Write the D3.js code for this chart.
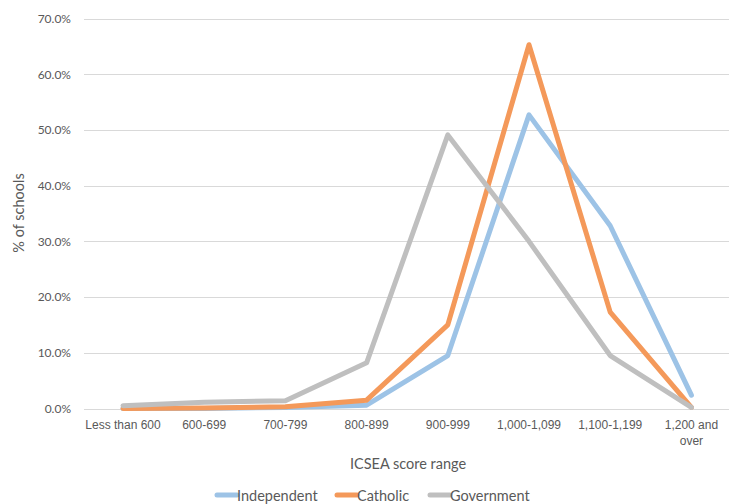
<!DOCTYPE html>
<html>
<head>
<meta charset="utf-8">
<script src="https://cdn.jsdelivr.net/npm/d3@7"></script>
<style>
  html, body { margin: 0; padding: 0; background: #fff; }
  svg { display: block; font-family: Lato, "Open Sans", sans-serif; }
</style>
</head>
<body>
<svg id="chart" width="729" height="504"></svg>
<script>
// ICSEA score bands
const categories = ["Less than 600", "600-699", "700-799", "800-899", "900-999", "1,000-1,099", "1,100-1,199", "1,200 and over"];

// Share of schools (%) in each band, by sector
const independent = [0.0, 0.0, 0.2, 0.6, 9.5, 52.7, 32.8, 2.4];
const catholic    = [0.0, 0.1, 0.3, 1.5, 15.0, 65.3, 17.3, 0.2];
const government  = [0.5, 1.1, 1.4, 8.2, 49.1, 30.0, 9.5, 0.2];

const seriesNames = ["Independent", "Catholic", "Government"];
const seriesColors = ["#9dc3e6", "#f4995a", "#bfbfbf"];
const yTicks = [0, 10, 20, 30, 40, 50, 60, 70];

const series = [independent, catholic, government];

const svg = d3.select("#chart");
const margin = { left: 82.4, right: -3, top: 18.5, bottom: 95.5 };
const W = 729, H = 504;

const x = d3.scaleBand()
  .domain(categories)
  .range([margin.left, W - margin.right])
  .paddingInner(0).paddingOuter(0);

const y = d3.scaleLinear()
  .domain([0, 70])
  .range([H - margin.bottom, margin.top]);

const textColor = "#595959";

// Horizontal gridlines
svg.append("g")
  .selectAll("line")
  .data(yTicks)
  .join("line")
  .attr("x1", 84)
  .attr("x2", W - margin.right)
  .attr("y1", d => Math.round(y(d)) + 0.5)
  .attr("y2", d => Math.round(y(d)) + 0.5)
  .attr("stroke", "#d9d9d9")
  .attr("stroke-width", 1);

// Y axis labels
const yAxis = d3.axisLeft(y)
  .tickValues(yTicks)
  .tickFormat(d => d.toFixed(1) + "%")
  .tickSize(0)
  .tickPadding(0);

const gy = svg.append("g")
  .attr("transform", "translate(71,0)")
  .call(yAxis);
gy.select(".domain").remove();
gy.selectAll("text")
  .attr("fill", textColor)
  .attr("font-size", 12)
  .attr("font-family", "Lato, 'Open Sans', sans-serif");

// X axis labels (wrapping the last one onto two lines)
const xAxis = d3.axisBottom(x).tickSize(0).tickPadding(0).tickFormat("");
const gx = svg.append("g")
  .attr("transform", `translate(0,${y(0)})`)
  .call(xAxis);
gx.select(".domain").remove();
gx.selectAll(".tick").each(function(d) {
  const t = d3.select(this).append("text")
    .attr("fill", textColor)
    .attr("font-size", 12)
    .attr("text-anchor", "middle")
    .attr("y", 20);
  const parts = d === "1,200 and over" ? ["1,200 and", "over"] : [d];
  parts.forEach((p, i) => {
    t.append("tspan").attr("x", 0).attr("dy", i === 0 ? 0 : 16).text(p);
  });
});

// Axis titles
svg.append("text")
  .attr("x", 408)
  .attr("y", 469)
  .attr("text-anchor", "middle")
  .attr("fill", textColor)
  .attr("font-size", 14.5)
  .text("ICSEA score range");

svg.append("text")
  .attr("transform", "translate(24,213) rotate(-90)")
  .attr("text-anchor", "middle")
  .attr("fill", textColor)
  .attr("font-size", 14.5)
  .text("% of schools");

// Series lines
const line = d3.line()
  .x((d, i) => x(categories[i]) + x.bandwidth() / 2)
  .y(d => y(d));

svg.append("g")
  .selectAll("path")
  .data(series)
  .join("path")
  .attr("d", d => line(d))
  .attr("fill", "none")
  .attr("stroke", (d, i) => seriesColors[i])
  .attr("stroke-width", 5)
  .attr("stroke-linejoin", "round")
  .attr("stroke-linecap", "round");

// Legend
const legendX = [215, 335, 428];
const lg = svg.append("g");
seriesNames.forEach((name, i) => {
  const g = lg.append("g").attr("transform", `translate(${legendX[i]},495)`);
  g.append("line")
    .attr("x1", 2).attr("x2", 22)
    .attr("y1", 0).attr("y2", 0)
    .attr("stroke", seriesColors[i])
    .attr("stroke-width", 5)
    .attr("stroke-linecap", "round");
  g.append("text")
    .attr("x", 22)
    .attr("y", 5.5)
    .attr("fill", textColor)
    .attr("font-size", 14.5)
    .text(name);
});
</script>
</body>
</html>
